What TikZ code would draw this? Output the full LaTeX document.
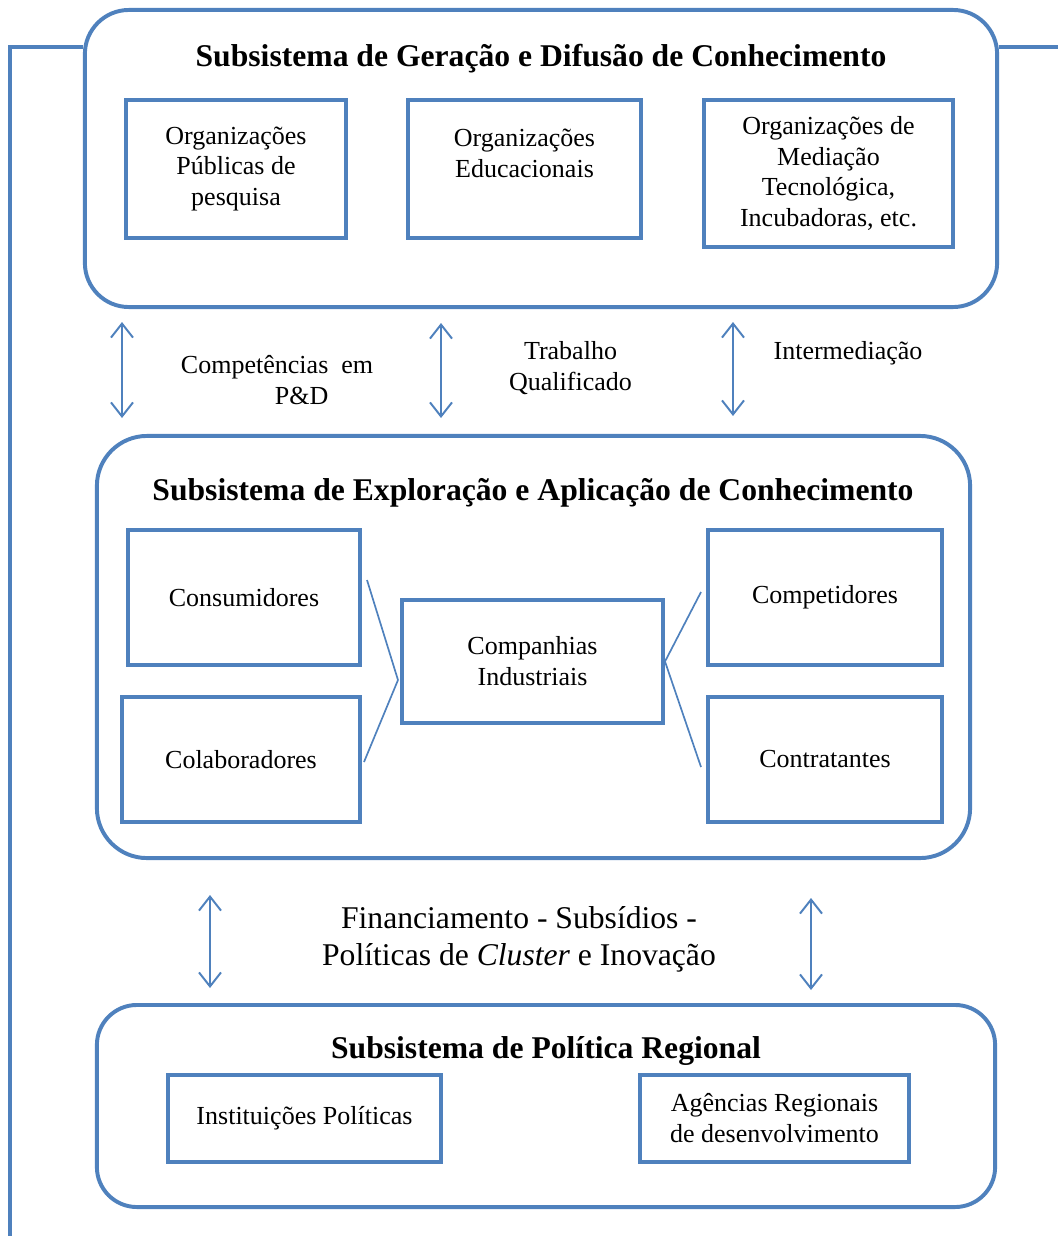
\documentclass[tikz,border=0pt]{standalone}
\usepackage{fontspec}
\setmainfont{Liberation Serif}
\usetikzlibrary{arrows.meta}
\definecolor{azul}{HTML}{4F81BD}
\newcommand{\corpo}{\fontsize{18.5}{22}\selectfont}
\newcommand{\titulo}{\fontsize{22.5}{27}\selectfont\bfseries}

\begin{document}
\begin{tikzpicture}[x=0.025cm,y=-0.025cm,
    sub/.style={draw=azul,line width=2.8pt,rounded corners=1.1cm},
    caixa/.style={draw=azul,line width=2.8pt,align=center,font=\corpo,inner sep=0pt},
    tit/.style={font=\titulo},
    rot/.style={font=\corpo,align=center},
    seta/.style={draw=azul,line width=1.4pt,{Straight Barb[length=0.35cm,width=0.55cm]}-{Straight Barb[length=0.35cm,width=0.55cm]}},
    liga/.style={draw=azul,line width=1.2pt}]
    \useasboundingbox (0,0) rectangle (1058,1236);
    \node[sub,minimum width=22.8cm,minimum height=7.425cm] (gen) at (541,158.5) {};
    \node[sub,minimum width=21.825cm,minimum height=10.55cm,rounded corners=1.25cm] (expl) at (533.5,647) {};
    \node[sub,minimum width=22.45cm,minimum height=5.05cm,rounded corners=1cm] (pol) at (546,1106) {};
    \node[tit] (tgen) at (541,59) {Subsistema de Geração e Difusão de Conhecimento};
    \node[tit] (texpl) at (533,493) {Subsistema de Exploração e Aplicação de Conhecimento};
    \node[tit] (tpol) at (546,1051) {Subsistema de Política Regional};
    \node[caixa,minimum width=5.5cm,minimum height=3.45cm] (pesq) at (236,169) {Organizações\\Públicas de\\pesquisa};
    \node[caixa,minimum width=5.825cm,minimum height=3.45cm] (educ) at (524.5,169) {Organizações\\Educacionais\\\mbox{}};
    \node[caixa,minimum width=6.225cm,minimum height=3.675cm] (medi) at (828.5,173.5) {Organizações de\\Mediação\\Tecnológica,\\Incubadoras, etc.};
    \node[caixa,minimum width=5.8cm,minimum height=3.375cm] (cons) at (244,597.5) {Consumidores};
    \node[caixa,minimum width=5.95cm,minimum height=3.125cm] (cola) at (241,759.5) {Colaboradores};
    \node[caixa,minimum width=6.525cm,minimum height=3.075cm] (comp) at (532.5,661.5) {Companhias\\Industriais};
    \node[caixa,minimum width=5.85cm,minimum height=3.375cm] (compt) at (825,597.5) {Competidores};
    \node[caixa,minimum width=5.85cm,minimum height=3.125cm] (contr) at (825,759.5) {Contratantes};
    \node[caixa,minimum width=6.825cm,minimum height=2.175cm] (inst) at (304.5,1118.5) {Instituições Políticas};
    \node[caixa,minimum width=6.725cm,minimum height=2.175cm] (agen) at (774.5,1118.5) {Agências Regionais\\de desenvolvimento};
    \draw[liga] ([shift={(5,-17.5)}]cons.east) -- ([shift={(-2,18.5)}]comp.west);
    \draw[liga] ([shift={(-2,18.5)}]comp.west) -- ([shift={(2,2.5)}]cola.east);
    \draw[liga] (comp.east) -- ([shift={(-5,-5.5)}]compt.west);
    \draw[liga] (comp.east) -- ([shift={(-5,7.5)}]contr.west);
    \coordinate (nivel) at (0,47);
    \coordinate (baseE) at (10,1236);
    \coordinate (fimD) at (1058,47);
    \draw[sub,rounded corners=0pt] (baseE) |- (gen.west |- nivel);
    \draw[sub,rounded corners=0pt] (gen.east |- nivel) -- (fimD);
    \coordinate (a1) at (122,322); \coordinate (b1) at (122,418);
    \coordinate (a2) at (441,323); \coordinate (b2) at (441,418);
    \coordinate (a3) at (733,322); \coordinate (b3) at (733,416);
    \coordinate (a4) at (210,895); \coordinate (b4) at (210,988);
    \coordinate (a5) at (811,898); \coordinate (b5) at (811,990);
    \foreach \i in {1,...,5}
        \draw[seta] (a\i) -- (b\i);
    \node[rot,align=left,anchor=west] (lcomp) at (176,380) {Competências\ \ em\\\hspace*{2.35cm}P\&D};
    \node[rot] (ltrab) at (570.5,368) {Trabalho\\Qualificado};
    \node[rot] (linter) at (848,353) {Intermediação};
    \node[rot,font=\fontsize{22.5}{26}\selectfont] (lfin) at (519,939.5) {Financiamento - Subsídios -\\Políticas de \textit{Cluster} e Inovação};
\end{tikzpicture}
\end{document}
